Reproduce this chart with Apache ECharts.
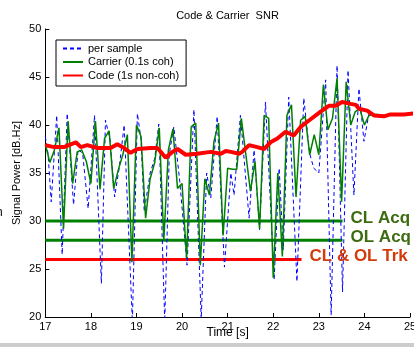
<!DOCTYPE html>
<html><head><meta charset="utf-8">
<script src="https://cdn.jsdelivr.net/npm/echarts@6/dist/echarts.min.js"></script>
<style>html,body{margin:0;padding:0;background:#fff}#c{width:414px;height:347px}</style>
</head><body><div id="c"></div>
<script>
// Carrier (0.1s coh) samples
const carrierT = [17.0,17.1,17.2,17.3,17.4,17.5,17.6,17.7,17.8,17.9,18.0,18.1,18.2,18.3,18.4,18.5,18.6,18.7,18.8,18.9,19.0,19.1,19.2,19.3,19.4,19.5,19.6,19.7,19.8,19.9,20.0,20.1,20.2,20.3,20.4,20.5,20.6,20.7,20.8,20.9,21.0,21.1,21.2,21.3,21.4,21.5,21.6,21.7,21.8,21.9,22.0,22.1,22.2,22.3,22.4,22.5,22.6,22.7,22.8,22.9,23.0,23.1,23.2,23.3,23.4,23.5,23.6,23.7,23.8,23.9,24.0,24.1,24.2,24.3];
const carrierV = [38.0,36.1,37.4,39.7,29.2,40.4,33.9,37.2,37.4,36.2,33.9,40.4,33.3,38.6,39.4,33.4,35.3,36.9,39.0,25.7,40.0,38.8,30.3,34.4,36.1,39.7,28.0,37.4,39.6,33.4,33.9,26.1,39.8,40.2,25.4,34.4,32.7,38.3,40.2,28.5,35.5,35.4,35.4,40.7,36.9,33.1,36.2,29.2,41.0,40.7,24.1,35.0,26.3,41.0,42.1,32.5,40.5,40.9,36.9,39.0,36.9,44.2,39.5,40.7,44.9,32.0,44.5,40.0,41.4,41.7,40.0,41.0,41.1,41.1];
// per sample
const sampleT = [17.0,17.06,17.13,17.25,17.37,17.48,17.62,17.72,17.82,17.94,18.08,18.23,18.32,18.42,18.52,18.62,18.73,18.91,19.02,19.1,19.17,19.3,19.4,19.49,19.62,19.72,19.82,19.95,20.11,20.26,20.42,20.54,20.63,20.77,20.93,21.07,21.14,21.28,21.47,21.58,21.7,21.83,22.02,22.13,22.22,22.34,22.52,22.67,22.8,22.89,23.0,23.15,23.27,23.4,23.52,23.64,23.77,23.88,23.99,24.1,24.25];
const sampleV = [38.8,37.0,32.0,41.0,26.5,41.2,31.7,37.5,37.0,31.3,41.0,23.5,40.5,38.5,32.5,35.5,40.0,19.5,41.2,38.5,31.0,35.0,36.5,40.1,19.5,37.0,39.8,34.1,25.4,41.6,19.8,35.0,32.4,40.9,25.2,35.0,32.7,41.0,30.3,37.4,29.1,42.4,23.9,35.5,27.0,42.9,23.7,42.8,37.0,35.5,35.0,44.7,20.2,46.2,22.6,45.7,32.7,43.8,38.3,41.2,41.0];
// Code (1s non-coh)
const codeT = [17.0,17.19,17.41,17.67,17.78,17.92,18.14,18.43,18.58,18.73,18.87,19.02,19.31,19.46,19.64,19.79,19.9,20.08,20.33,20.63,20.85,20.96,21.07,21.25,21.32,21.47,21.65,21.8,21.94,22.09,22.27,22.45,22.6,22.82,23.04,23.22,23.37,23.51,23.7,23.81,23.88,24.06,24.21,24.43,24.57,24.87,25.09];
const codeV = [37.9,37.7,37.7,38.2,37.7,37.9,37.6,37.6,38.0,37.6,37.1,37.5,37.6,37.6,36.6,37.2,37.5,36.9,37.0,37.2,37.0,37.3,37.2,37.0,37.2,37.9,37.7,37.5,38.2,38.6,39.3,38.9,39.8,40.6,41.4,42.0,42.0,42.4,42.2,42.1,41.7,41.5,41.0,40.9,41.1,41.1,41.2];
// thresholds
const thresholdNames = ['CL Acq','OL Acq','CL & OL Trk'];
const thresholdLevels = [30, 28, 26];
const thresholdEnds = [23.52, 23.52, 22.62];
const xTicks = {min:17, max:25, step:1};
const yTicks = {min:20, max:50, step:5};

const FONT = '"Liberation Sans", Arial, Helvetica, sans-serif';
const zip = (a,b)=>a.map((t,i)=>[t,b[i]]);
const thrColors = ['#008000','#008000','#ff0000'];
const thrLabelColors = ['#3d6b10','#3d6b10','#d23c0c'];

const thrSeries = thresholdNames.map((n,i)=>({
  type:'line', name:n, symbol:'none', silent:true,
  data:[[xTicks.min, thresholdLevels[i]],[thresholdEnds[i], thresholdLevels[i]]],
  lineStyle:{color:thrColors[i], width:3},
  endLabel:{show:true, formatter:n, color:thrLabelColors[i], fontFamily:FONT, fontSize:17, fontWeight:'bold', distance:8, offset:[0,-3]}
}));

const chart = echarts.init(document.getElementById('c'), null, {renderer:'canvas'});
chart.setOption({
  animation:false,
  backgroundColor:'#fff',
  textStyle:{fontFamily:FONT},
  grid:{left:45.3, right:4, top:29, bottom:30, containLabel:false, outerBoundsMode:'none'},
  legend:{
    data:['per sample','Carrier (0.1s coh)','Code (1s non-coh)'],
    orient:'vertical', left:56, top:40, itemWidth:20, itemHeight:10, itemGap:2.5,
    padding:[3,7,5,6], borderColor:'#000', borderWidth:1, borderRadius:0, backgroundColor:'#fff',
    itemStyle:{color:'rgba(0,0,0,0)', borderWidth:0, borderColor:'rgba(0,0,0,0)'},
    textStyle:{fontFamily:FONT, fontSize:11, color:'#000'}
  },
  xAxis:{type:'value', min:xTicks.min, max:xTicks.max, interval:xTicks.step,
    name:'Time [s]', nameLocation:'middle', nameGap:10, nameMoveOverlap:false, nameTextStyle:{fontSize:12, color:'#000', fontFamily:FONT},
    axisLine:{lineStyle:{color:'#000', width:1}}, axisTick:{inside:true, length:4, lineStyle:{color:'#000'}},
    axisLabel:{fontSize:11, color:'#000', margin:4, fontFamily:FONT}, splitLine:{show:false}},
  yAxis:{type:'value', min:yTicks.min, max:yTicks.max, interval:yTicks.step,
    name:'Signal Power [dB.Hz]', nameLocation:'middle', nameGap:23, nameMoveOverlap:false, nameRotate:90, nameTextStyle:{fontSize:11, color:'#000', fontFamily:FONT},
    axisLine:{show:true, lineStyle:{color:'#000', width:1}}, axisTick:{show:true, inside:true, length:4, lineStyle:{color:'#000'}},
    axisLabel:{fontSize:11, color:'#000', margin:4, fontFamily:FONT}, splitLine:{show:false}},
  graphic:[
    {type:'text', x:227.5, y:10, style:{text:'Code & Carrier  SNR', fontSize:11, fill:'#000', fontFamily:FONT, textAlign:'center', textVerticalAlign:'top'}},
    {type:'text', x:-4, y:207, style:{text:'n', fontSize:12, fill:'#000', fontFamily:FONT, textVerticalAlign:'top'}},
    {type:'rect', x:0, y:343, shape:{width:414, height:4}, style:{fill:'#cccccc'}}
  ],
  series:[
    ...thrSeries,
    {type:'line', name:'per sample', symbol:'none', data:zip(sampleT, sampleV), lineStyle:{color:'#0000ff', width:1, type:[4,3]}, itemStyle:{color:'#0000ff'}},
    {type:'line', name:'Carrier (0.1s coh)', symbol:'none', data:zip(carrierT, carrierV), lineStyle:{color:'#008000', width:1.5}, itemStyle:{color:'#008000'}},
    {type:'line', name:'Code (1s non-coh)', symbol:'none', clip:false, data:zip(codeT, codeV), lineStyle:{color:'#ff0000', width:4}, itemStyle:{color:'#ff0000'}}
  ]
});
</script></body></html>
